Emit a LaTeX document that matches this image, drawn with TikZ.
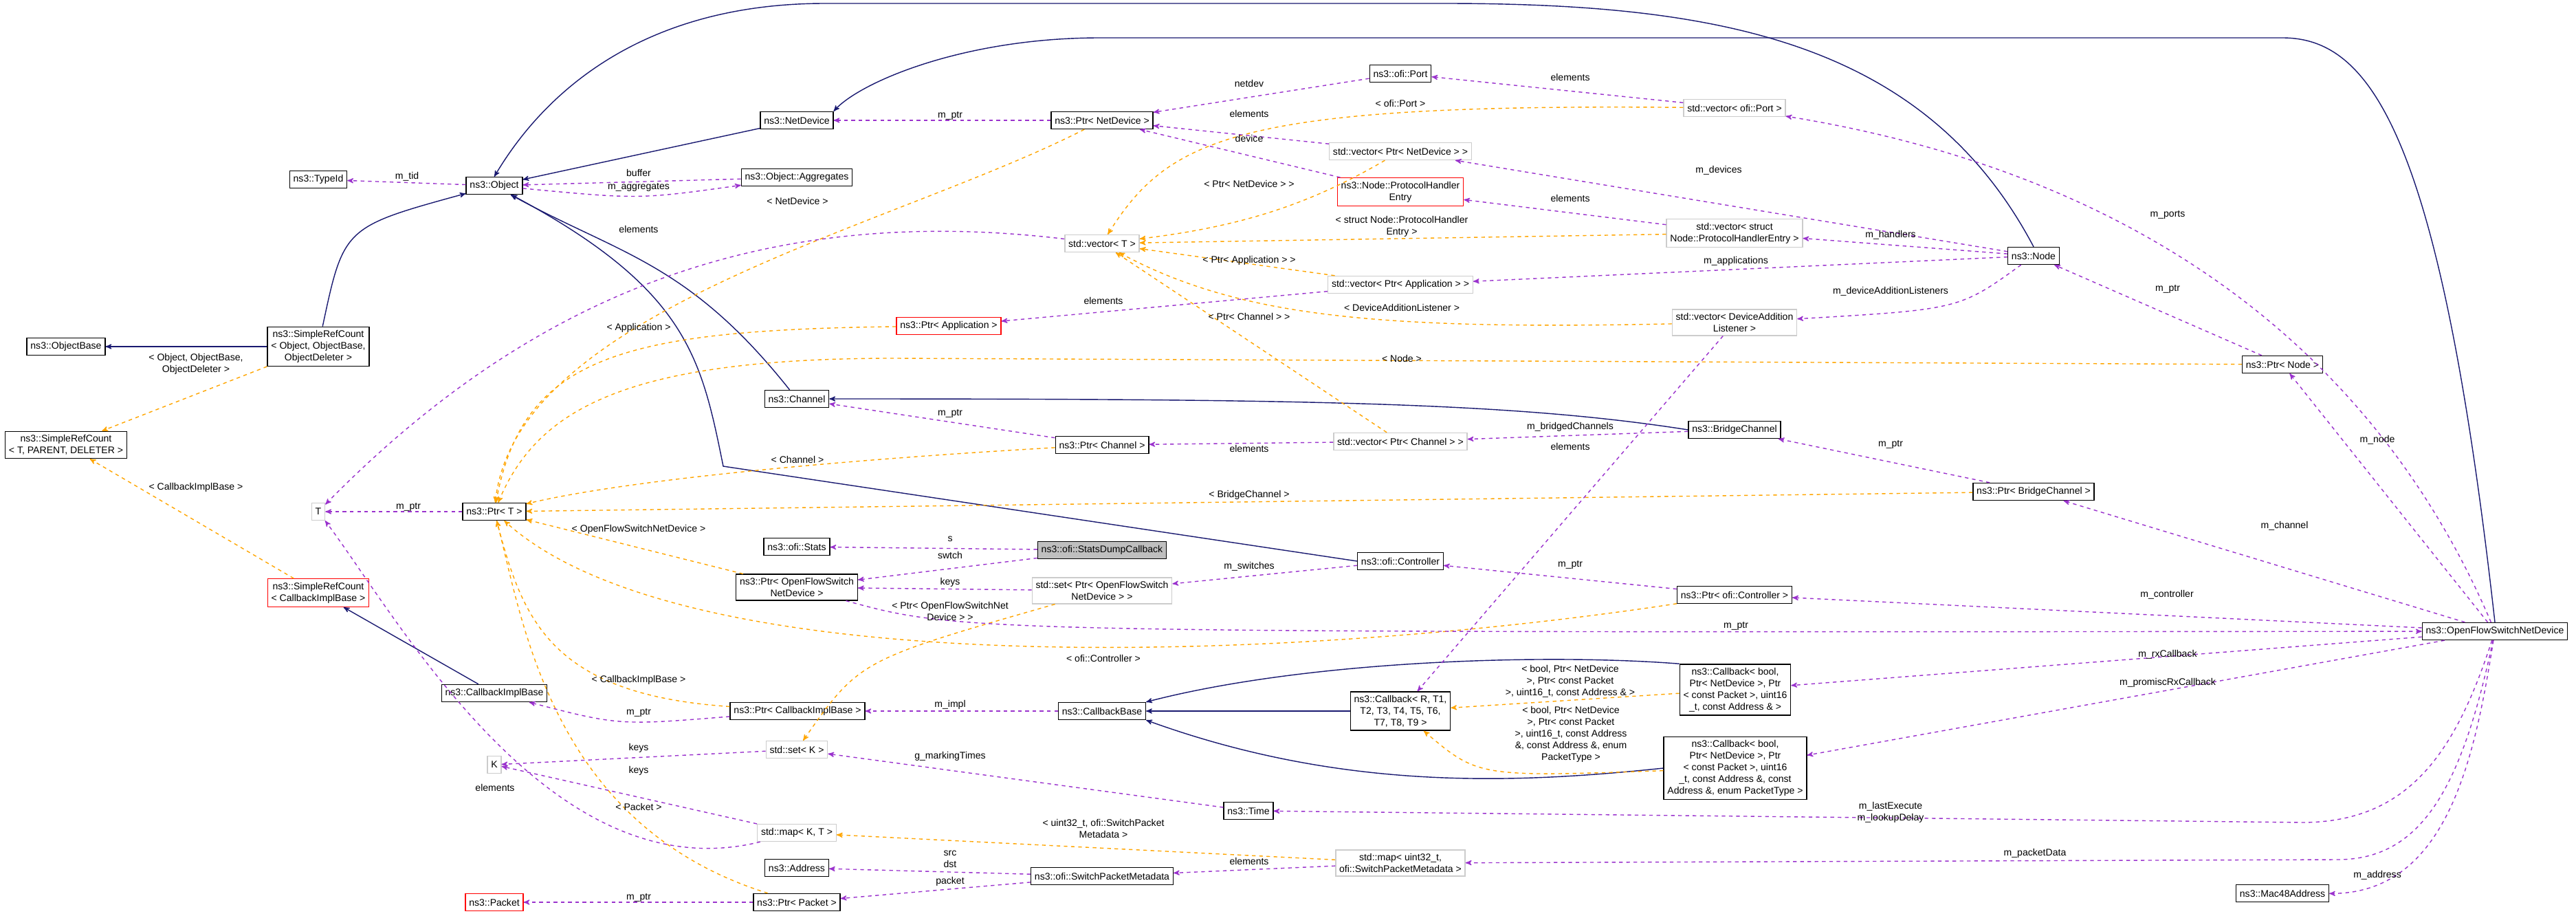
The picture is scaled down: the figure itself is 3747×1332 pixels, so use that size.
\documentclass[tikz,border=0pt]{standalone}
\usepackage{fontspec}
\setmainfont{Liberation Sans}
\usetikzlibrary{arrows}

\definecolor{inhcol}{HTML}{191970}
\definecolor{usecol}{HTML}{9A32CD}
\definecolor{tplcol}{HTML}{FFA500}

\begin{document}
\begin{tikzpicture}[
    x=0.02cm, y=-0.02cm,
    every node/.style={font=\fontsize{8}{9.6}\selectfont, align=center},
    cls/.style={draw=black, fill=white, thick, inner sep=3pt, minimum height=0.5cm},
    ext/.style={draw=black!20, fill=white, thick, inner sep=3pt, minimum height=0.5cm},
    redcls/.style={draw=red, fill=white, thick, inner sep=3pt, minimum height=0.5cm},
    cur/.style={draw=black, fill=black!25, thick, inner sep=3pt, minimum height=0.5cm},
    inh/.style={inhcol, line width=0.8pt, ->, >=stealth'},
    use/.style={usecol, line width=0.8pt, dashed, ->, >=stealth'},
    tpl/.style={tplcol, line width=0.8pt, dashed, ->, >=stealth'},
    lbl/.style={inner sep=1pt}
    ]
    \useasboundingbox (0,0) rectangle (3747,1332);
    % classes, left part
    \node[cls] (typeid) at (463,261) {ns3::TypeId};
    \node[cls] (obj) at (719,270) {ns3::Object};
    \node[cls] (netdev) at (1159,175) {ns3::NetDevice};
    \node[cls] (agg) at (1159,258) {ns3::Object::Aggregates};
    \node[cls] (objbase) at (96,504) {ns3::ObjectBase};
    \node[cls] (srcobj) at (463,504) {ns3::SimpleRefCount\\{}< Object, ObjectBase,\\ObjectDeleter >};
    \node[cls] (srct) at (96,647) {ns3::SimpleRefCount\\{}< T, PARENT, DELETER >};
    \node[cls] (chan) at (1159,580) {ns3::Channel};
    \node[ext] (T) at (463,744) {T};
    \node[cls] (pT) at (719,744) {ns3::Ptr< T >};
    \node[redcls] (srccb) at (463,862) {ns3::SimpleRefCount\\{}< CallbackImplBase >};
    \node[cls] (cib) at (719,1008) {ns3::CallbackImplBase};
    \node[ext] (K) at (719,1112) {K};
    \node[ext] (mapkt) at (1159,1211) {std::map< K, T >};
    \node[cls] (addr) at (1159,1262) {ns3::Address};
    \node[redcls] (pkt) at (719,1312) {ns3::Packet};
    \node[cls] (ppkt) at (1159,1312) {ns3::Ptr< Packet >};
    \node[cls] (stats) at (1159,795) {ns3::ofi::Stats};
    \node[cls] (pofs) at (1159,854) {ns3::Ptr< OpenFlowSwitch\\NetDevice >};
    \node[ext] (setk) at (1159,1090) {std::set< K >};
    \node[cls] (pcib) at (1160,1034) {ns3::Ptr< CallbackImplBase >};
    % classes, middle part
    \node[cls] (port) at (2037,107) {ns3::ofi::Port};
    \node[cls] (pnetdev) at (1603,175) {ns3::Ptr< NetDevice >};
    \node[ext] (vpnd) at (2037,220) {std::vector< Ptr< NetDevice > >};
    \node[redcls] (phe) at (2037,279) {ns3::Node::ProtocolHandler\\Entry};
    \node[ext] (vect) at (1603,354) {std::vector< T >};
    \node[ext] (vpapp) at (2037,414) {std::vector< Ptr< Application > >};
    \node[redcls] (papp) at (1380,474) {ns3::Ptr< Application >};
    \node[cls] (pchan) at (1603,647) {ns3::Ptr< Channel >};
    \node[ext] (vpchan) at (2037,642) {std::vector< Ptr< Channel > >};
    \node[cur] (sdc) at (1603,800) {ns3::ofi::StatsDumpCallback};
    \node[ext] (setpofs) at (1603,859) {std::set< Ptr< OpenFlowSwitch\\NetDevice > >};
    \node[cls] (ctl) at (2037,816) {ns3::ofi::Controller};
    \node[cls] (cbase) at (1603,1034) {ns3::CallbackBase};
    \node[cls] (cbr) at (2037,1034) {ns3::Callback< R, T1,\\T2, T3, T4, T5, T6,\\T7, T8, T9 >};
    \node[cls] (time) at (1816,1179) {ns3::Time};
    \node[cls] (spm) at (1603,1274) {ns3::ofi::SwitchPacketMetadata};
    \node[ext] (mapspm) at (2037,1255) {std::map< uint32\_t,\\ofi::SwitchPacketMetadata >};
    % classes, right part
    \node[cls] (bch) at (2523,625) {ns3::BridgeChannel};
    \node[ext] (vport) at (2523,157) {std::vector< ofi::Port >};
    \node[ext] (vphe) at (2523,339) {std::vector< struct\\Node::ProtocolHandlerEntry >};
    \node[ext] (vdal) at (2523,469) {std::vector< DeviceAddition\\Listener >};
    \node[cls] (pctl) at (2523,865) {ns3::Ptr< ofi::Controller >};
    \node[cls] (cbrx) at (2524,1003) {ns3::Callback< bool,\\Ptr< NetDevice >, Ptr\\{}< const Packet >, uint16\\\_t, const Address \& >};
    \node[cls] (cbprom) at (2524,1117) {ns3::Callback< bool,\\Ptr< NetDevice >, Ptr\\{}< const Packet >, uint16\\\_t, const Address \&, const\\Address \&, enum PacketType >};
    \node[cls] (node) at (2958,372) {ns3::Node};
    \node[cls] (pnode) at (3320,530) {ns3::Ptr< Node >};
    \node[cls] (pbch) at (2958,715) {ns3::Ptr< BridgeChannel >};
    \node[cls] (ofsnd) at (3629,918) {ns3::OpenFlowSwitchNetDevice};
    \node[cls] (mac) at (3320,1299) {ns3::Mac48Address};
    % inheritance
    \draw[inh] (netdev) -- (obj);
    \draw[inh] (srcobj) .. controls (500,330) .. (obj);
    \draw[inh] (srcobj) -- (objbase);
    \draw[inh] (cib) -- (srccb);
    \draw[inh] (chan) .. controls (1000,380) and (900,370) .. (obj);
    \draw[inh] (ctl.west) -- (1052,678) .. controls (1020,520) and (1000,420) .. (obj);
    \draw[inh] (bch.west) .. controls (2200,585) and (1900,580) .. (chan.east);
    \draw[inh] (node.north) .. controls (2800,60) and (2500,5) .. (2100,5) -- (1200,5) .. controls (950,5) and (800,120) .. (obj.north);
    \draw[inh] (ofsnd.north) .. controls (3550,200) and (3450,55) .. (3320,55) -- (1600,55) .. controls (1400,55) and (1250,120) .. (netdev.north east);
    \draw[inh] (cbr) -- (cbase);
    \draw[inh] (cbrx.north west) .. controls (2250,950) and (1900,960) .. (cbase.north east);
    \draw[inh] (cbprom.west) .. controls (2200,1140) and (1950,1150) .. (cbase.south east);
    % template instances
    \draw[tpl] (srcobj) -- (srct);
    \draw[tpl] (srccb) -- (srct);
    \draw[tpl] (pnetdev) .. controls (1300,330) and (750,450) .. (pT);
    \draw[tpl] (papp) .. controls (900,480) and (760,520) .. (pT);
    \draw[tpl] (pchan) .. controls (1200,670) and (900,700) .. (pT);
    \draw[tpl] (pnode) -- (1300,521) .. controls (900,521) and (780,600) .. (pT);
    \draw[tpl] (pbch) -- (pT);
    \draw[tpl] (pofs) -- (pT);
    \draw[tpl] (pctl) .. controls (1900,960) and (1000,1000) .. (pT);
    \draw[tpl] (pcib) .. controls (800,1010) and (760,900) .. (pT);
    \draw[tpl] (ppkt) .. controls (800,1200) and (760,900) .. (pT);
    \draw[tpl] (vport) .. controls (1800,150) and (1700,200) .. (vect);
    \draw[tpl] (vpnd) .. controls (1900,300) and (1800,330) .. (vect);
    \draw[tpl] (vphe) -- (vect);
    \draw[tpl] (vpapp) -- (vect);
    \draw[tpl] (vdal) .. controls (2000,480) and (1800,460) .. (vect);
    \draw[tpl] (vpchan) -- (vect);
    \draw[tpl] (setpofs) .. controls (1250,960) .. (setk);
    \draw[tpl] (mapspm) -- (mapkt);
    \draw[tpl] (cbrx) -- (cbr);
    \draw[tpl] (cbprom) .. controls (2150,1130) .. (cbr);
    % members
    \draw[use] (obj) -- (typeid);
    \draw[use] (agg) -- (obj);
    \draw[use] (obj) .. controls (930,290) .. (agg);
    \draw[use] (pnetdev) -- (netdev);
    \draw[use] (port) -- (pnetdev);
    \draw[use] (vpnd) -- (pnetdev);
    \draw[use] (phe) -- (pnetdev);
    \draw[use] (vport) -- (port);
    \draw[use] (vect) .. controls (1150,300) and (800,400) .. (T);
    \draw[use] (vpapp) -- (papp);
    \draw[use] (vphe) -- (phe);
    \draw[use] (node) -- (vpnd);
    \draw[use] (node) -- (vphe);
    \draw[use] (node) -- (vpapp);
    \draw[use] (node) .. controls (2850,450) .. (vdal);
    \draw[use] (vdal) -- (cbr);
    \draw[use] (pnode) -- (node);
    \draw[use] (ofsnd) .. controls (3450,500) and (3100,250) .. (vport);
    \draw[use] (ofsnd) -- (pnode);
    \draw[use] (pchan) -- (chan);
    \draw[use] (vpchan) -- (pchan);
    \draw[use] (bch) -- (vpchan);
    \draw[use] (pbch) -- (bch);
    \draw[use] (ofsnd) -- (pbch);
    \draw[use] (pT) -- (T);
    \draw[use] (sdc) -- (stats);
    \draw[use] (sdc) -- (pofs);
    \draw[use] (setpofs) -- (pofs);
    \draw[use] (ctl) -- (setpofs);
    \draw[use] (pctl) -- (ctl);
    \draw[use] (ofsnd) -- (pctl);
    \draw[use] (pofs) .. controls (1400,920) .. (ofsnd);
    \draw[use] (ofsnd) -- (cbrx);
    \draw[use] (ofsnd) -- (cbprom);
    \draw[use] (pcib) .. controls (900,1055) .. (cib);
    \draw[use] (cbase) -- (pcib);
    \draw[use] (setk) -- (K);
    \draw[use] (mapkt) -- (K);
    \draw[use] (mapkt) .. controls (800,1300) and (580,900) .. (T);
    \draw[use] (time) -- (setk);
    \draw[use] (ofsnd) .. controls (3570,1100) and (3500,1195) .. (3350,1196) -- (time);
    \draw[use] (spm) -- (addr);
    \draw[use] (spm) -- (ppkt);
    \draw[use] (mapspm) -- (spm);
    \draw[use] (ofsnd) .. controls (3580,1150) and (3520,1250) .. (3400,1250) -- (mapspm);
    \draw[use] (ofsnd) .. controls (3600,1100) and (3560,1300) .. (mac);
    \draw[use] (ppkt) -- (pkt);
    % connector labels
    \node[lbl] (l1) at (592,257) {m\_tid};
    \node[lbl] (l2) at (929,251) {buffer};
    \node[lbl] (l3) at (929,272) {m\_aggregates};
    \node[lbl] (l4) at (1160,292) {< NetDevice >};
    \node[lbl] (l5) at (929,333) {elements};
    \node[lbl] (l6) at (929,477) {< Application >};
    \node[lbl] (l7) at (285,529) {< Object, ObjectBase,\\ObjectDeleter >};
    \node[lbl] (l8) at (1160,668) {< Channel >};
    \node[lbl] (l9) at (1817,121) {netdev};
    \node[lbl] (l10) at (2284,112) {elements};
    \node[lbl] (l11) at (2037,150) {< ofi::Port >};
    \node[lbl] (l12) at (1382,168) {m\_ptr};
    \node[lbl] (l13) at (1817,165) {elements};
    \node[lbl] (l14) at (1817,201) {device};
    \node[lbl] (l15) at (1817,267) {< Ptr< NetDevice > >};
    \node[lbl] (l16) at (2284,288) {elements};
    \node[lbl] (l17) at (2039,329) {< struct Node::ProtocolHandler\\Entry >};
    \node[lbl] (l18) at (1817,379) {< Ptr< Application > >};
    \node[lbl] (l19) at (1605,437) {elements};
    \node[lbl] (l20) at (2039,447) {< DeviceAdditionListener >};
    \node[lbl] (l21) at (1817,460) {< Ptr< Channel > >};
    \node[lbl] (l22) at (2039,521) {< Node >};
    \node[lbl] (l23) at (1382,601) {m\_ptr};
    \node[lbl] (l24) at (2284,621) {m\_bridgedChannels};
    \node[lbl] (l25) at (1817,652) {elements};
    \node[lbl] (l26) at (2284,649) {elements};
    \node[lbl] (l27) at (2500,248) {m\_devices};
    \node[lbl] (l28) at (3153,312) {m\_ports};
    \node[lbl] (l29) at (2750,342) {m\_handlers};
    \node[lbl] (l30) at (2525,380) {m\_applications};
    \node[lbl] (l31) at (2750,424) {m\_deviceAdditionListeners};
    \node[lbl] (l32) at (3153,420) {m\_ptr};
    \node[lbl] (l33) at (2750,646) {m\_ptr};
    \node[lbl] (l34) at (3458,640) {m\_node};
    \node[lbl] (l35) at (3323,765) {m\_channel};
    \node[lbl] (l36) at (3152,865) {m\_controller};
    \node[lbl] (l37) at (2525,910) {m\_ptr};
    \node[lbl] (l38) at (3153,952) {m\_rxCallback};
    \node[lbl] (l39) at (3153,993) {m\_promiscRxCallback};
    \node[lbl] (l40) at (2750,1181) {m\_lastExecute\\m\_lookupDelay};
    \node[lbl] (l41) at (2960,1241) {m\_packetData};
    \node[lbl] (l42) at (3458,1273) {m\_address};
    \node[lbl] (l43) at (285,709) {< CallbackImplBase >};
    \node[lbl] (l44) at (594,737) {m\_ptr};
    \node[lbl] (l45) at (929,770) {< OpenFlowSwitchNetDevice >};
    \node[lbl] (l46) at (929,989) {< CallbackImplBase >};
    \node[lbl] (l47) at (929,1036) {m\_ptr};
    \node[lbl] (l48) at (929,1088) {keys};
    \node[lbl] (l49) at (929,1121) {keys};
    \node[lbl] (l50) at (720,1145) {elements};
    \node[lbl] (l51) at (929,1173) {< Packet >};
    \node[lbl] (l52) at (929,1305) {m\_ptr};
    \node[lbl] (l53) at (1817,720) {< BridgeChannel >};
    \node[lbl] (l54) at (1382,784) {s};
    \node[lbl] (l55) at (1382,807) {swtch};
    \node[lbl] (l56) at (1382,847) {keys};
    \node[lbl] (l57) at (1382,889) {< Ptr< OpenFlowSwitchNet\\Device > >};
    \node[lbl] (l58) at (1817,824) {m\_switches};
    \node[lbl] (l59) at (2284,821) {m\_ptr};
    \node[lbl] (l60) at (1605,957) {< ofi::Controller >};
    \node[lbl] (l61) at (1382,1025) {m\_impl};
    \node[lbl] (l62) at (2284,991) {< bool, Ptr< NetDevice\\>, Ptr< const Packet\\>, uint16\_t, const Address \& >};
    \node[lbl] (l63) at (2285,1068) {< bool, Ptr< NetDevice\\>, Ptr< const Packet\\>, uint16\_t, const Address\\\&, const Address \&, enum\\PacketType >};
    \node[lbl] (l64) at (1382,1100) {g\_markingTimes};
    \node[lbl] (l65) at (1605,1205) {< uint32\_t, ofi::SwitchPacket\\Metadata >};
    \node[lbl] (l66) at (1382,1249) {src\\dst};
    \node[lbl] (l67) at (1382,1282) {packet};
    \node[lbl] (l68) at (1817,1252) {elements};
\end{tikzpicture}
\end{document}
